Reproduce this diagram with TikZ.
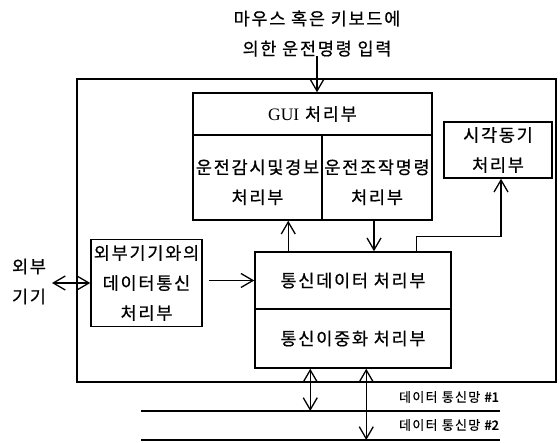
\documentclass[tikz,border=0pt]{standalone}
\usepackage{fontspec}
\setmainfont{Noto Sans CJK KR}[LetterSpace=10,FakeBold=0.6]
\newfontfamily\latfont{Liberation Serif}
\newfontfamily\numfont{Noto Sans CJK KR}[FakeBold=2]
\usetikzlibrary{arrows.meta,calc}
\newcommand\mainfnt{\fontsize{17.5}{30}\selectfont}
\newcommand\smallfnt{\fontsize{13}{26}\selectfont}
\tikzset{
  box/.style={draw, line width=1.5pt, inner sep=0pt, align=center, font=\mainfnt},
  lbl/.style={inner sep=0pt, align=center, font=\mainfnt},
  netlbl/.style={inner sep=0pt, font=\smallfnt},
  barb/.tip={Straight Barb[length=12pt,width=14pt,line width=1.3pt]},
  arr/.style={line width=1.3pt, -barb},
  darr/.style={line width=1.3pt, barb-barb},
  netline/.style={line width=1.5pt}
}
\begin{document}
\begin{tikzpicture}[x=1pt,y=-1pt]
\useasboundingbox (0,0) rectangle (560,443);

% title
\node[lbl] (title) at (317,33.5) {마우스 혹은 키보드에\\의한 운전명령 입력};
\coordinate (cmdin) at (317,56);

% outer frame
\node[box, minimum width=479pt, minimum height=303pt] (outer) at (316.5,230.5) {};

% GUI block
\node[box, minimum width=239pt, minimum height=42pt] (gui) at (312.5,114) {{\latfont GUI} 처리부};
\node[box, minimum width=129pt, minimum height=85pt] (mon) at (257.5,177.5) {\rule{0pt}{24pt}운전감시및경보\\처리부};
\node[box, minimum width=110pt, minimum height=85pt] (cmd) at (377,177.5) {\rule{0pt}{24pt}운전조작명령\\처리부};

% time sync
\node[box, minimum width=108pt, minimum height=56pt] (sync) at (498,150) {시각동기\\처리부};

% external comm
\node[box, minimum width=111pt, minimum height=87pt] (ext) at (146.5,283) {외부기기와의\\데이터통신\\처리부};
\node[lbl] (extdev) at (29,281.5) {외부\\기기};
\coordinate (extin) at (52,283);

% communication data
\node[box, minimum width=196pt, minimum height=57pt] (comm) at (353,280.5) {통신데이터 처리부};
\node[box, minimum width=196pt, minimum height=59pt] (dup) at (353,338.5) {통신이중화 처리부};

% networks
\coordinate (n1l) at (141,411);
\coordinate (n1r) at (500,411);
\coordinate (n2l) at (141,440);
\coordinate (n2r) at (500,440);
\draw[netline] (n1l) -- (n1r);
\draw[netline] (n2l) -- (n2r);
\node[netlbl] (net1) at (449,397) {데이터 통신망 {\numfont\#1}};
\node[netlbl] (net2) at (449,425) {데이터 통신망 {\numfont\#2}};

% connectors
\draw[arr] (cmdin) -- (cmdin |- gui.north);
\draw[darr] (extin) -- (ext.west |- extin);
\coordinate (extout) at ([xshift=6pt]ext.east);
\draw[arr] (extout |- comm.west) -- (comm.west);
\coordinate (u1) at ([xshift=34pt]comm.north west);
\draw[arr] (u1) -- (u1 |- mon.south);
\coordinate (d1) at ([xshift=-3pt]cmd.south);
\draw[arr] (d1) -- (d1 |- comm.north);
\coordinate (e1) at ([xshift=162pt]comm.north west);
\coordinate (s1) at ([xshift=3pt]sync.south);
\draw[arr] (e1) -- ++(0,-15) -| (s1);
\coordinate (b1) at ([xshift=56pt]dup.south west);
\coordinate (b2) at ([xshift=112pt]dup.south west);
\draw[darr] (b1) -- (b1 |- n1l);
\draw[darr] (b2) -- (b2 |- n2l);
\end{tikzpicture}
\end{document}
